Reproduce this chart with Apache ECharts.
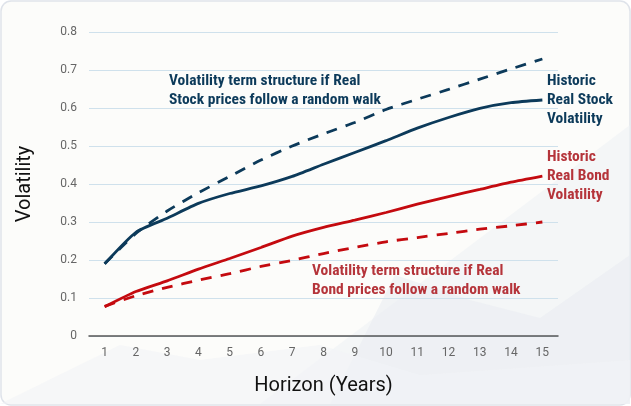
<!DOCTYPE html>
<html>
<head>
<meta charset="utf-8">
<script src="https://cdn.jsdelivr.net/npm/echarts@6/dist/echarts.min.js"></script>
<style>
html,body{margin:0;padding:0;background:#ffffff;}
#chart{width:631px;height:406px;}
</style>
</head>
<body>
<div id="chart"></div>
<script>
var categories = ['1','2','3','4','5','6','7','8','9','10','11','12','13','14','15'];
var yTicks = [0, 0.1, 0.2, 0.3, 0.4, 0.5, 0.6, 0.7, 0.8];
var stockHistoric = [0.19, 0.273, 0.31, 0.349, 0.375, 0.395, 0.42, 0.452, 0.483, 0.514, 0.547, 0.575, 0.599, 0.614, 0.621];
var stockRandomWalk = [0.19, 0.27, 0.329, 0.377, 0.42, 0.463, 0.5, 0.532, 0.562, 0.596, 0.623, 0.649, 0.676, 0.703, 0.729];
var bondHistoric = [0.077, 0.117, 0.145, 0.176, 0.204, 0.233, 0.263, 0.286, 0.305, 0.325, 0.347, 0.367, 0.386, 0.405, 0.421];
var bondRandomWalk = [0.078, 0.106, 0.128, 0.147, 0.164, 0.183, 0.199, 0.217, 0.233, 0.248, 0.259, 0.27, 0.281, 0.29, 0.3];

var navy = '#0c3a5a';
var red = '#c40a0f';
var redText = '#b5343a';
var condensed = '"Liberation Sans Narrow","Roboto Condensed","DejaVu Sans Condensed",Roboto,sans-serif';

var chart = echarts.init(document.getElementById('chart'), null, {renderer: 'canvas'});

function textEl(x, y, str, color) {
  return {
    type: 'text', left: x, top: y, z: 5,
    style: {text: str, fill: color, font: 'bold 15.5px ' + condensed, lineHeight: 19}
  };
}

var option = {
  animation: false,
  backgroundColor: 'transparent',
  graphic: [
    {type: 'rect', z: -10, shape: {x: 1, y: 1, width: 629, height: 404, r: 10},
     style: {fill: '#fcfcfa', stroke: '#dfe3ea', lineWidth: 1.5}},
    {type: 'polygon', z: -9, shape: {points: [[260, 404], [630, 125], [630, 404]]},
     style: {fill: '#eef1f5', opacity: 0.6}},
    {type: 'polygon', z: -9, shape: {points: [[330, 404], [395, 275], [470, 300], [540, 318], [630, 255], [630, 404]]},
     style: {fill: '#e9edf2', opacity: 0.6}},
    {type: 'polygon', z: -9, shape: {points: [[0, 404], [120, 345], [200, 360], [320, 345], [420, 375], [630, 360], [630, 404]]},
     style: {fill: '#f1f3f6', opacity: 0.6}},
    textEl(169, 72, 'Volatility term structure if Real\nStock prices follow a random walk', navy),
    textEl(547, 72, 'Historic\nReal Stock\nVolatility', navy),
    textEl(547, 148, 'Historic\nReal Bond\nVolatility', redText),
    textEl(312, 262, 'Volatility term structure if Real\nBond prices follow a random walk', redText)
  ],
  grid: {left: 89, right: 73, top: 32, bottom: 70, containLabel: false},
  xAxis: {
    type: 'category',
    data: categories,
    boundaryGap: true,
    name: 'Horizon (Years)',
    nameLocation: 'middle',
    nameGap: 40,
    nameTextStyle: {fontFamily: 'Roboto', fontSize: 20, color: '#111'},
    axisLine: {lineStyle: {color: '#555', width: 1.5}},
    axisTick: {show: false},
    axisLabel: {fontFamily: 'Roboto', fontSize: 12, color: '#666', margin: 11},
    splitLine: {show: false}
  },
  yAxis: {
    type: 'value',
    min: yTicks[0],
    max: yTicks[yTicks.length - 1],
    interval: 0.1,
    name: 'Volatility',
    nameLocation: 'middle',
    nameGap: 54,
    nameRotate: 90,
    nameTextStyle: {fontFamily: 'Roboto', fontSize: 20, color: '#111'},
    axisLine: {show: false},
    axisTick: {show: false},
    axisLabel: {
      fontFamily: 'Roboto', fontSize: 12, color: '#666', margin: 12,
      formatter: function (v) { return v === 0 ? '0' : v.toFixed(1); }
    },
    splitLine: {lineStyle: {color: '#cfe1ec', width: 1}}
  },
  series: [
    {name: 'Stock random walk', type: 'line', data: stockRandomWalk, symbol: 'none', smooth: 0.2,
     lineStyle: {color: navy, width: 2.8, type: [11, 9]}, z: 3},
    {name: 'Historic stock', type: 'line', data: stockHistoric, symbol: 'none', smooth: 0.2,
     lineStyle: {color: navy, width: 2.8}, z: 4},
    {name: 'Bond random walk', type: 'line', data: bondRandomWalk, symbol: 'none', smooth: 0.2,
     lineStyle: {color: red, width: 2.8, type: [11, 9]}, z: 3},
    {name: 'Historic bond', type: 'line', data: bondHistoric, symbol: 'none', smooth: 0.2,
     lineStyle: {color: red, width: 2.8}, z: 4}
  ]
};
chart.setOption(option);
</script>
</body>
</html>
